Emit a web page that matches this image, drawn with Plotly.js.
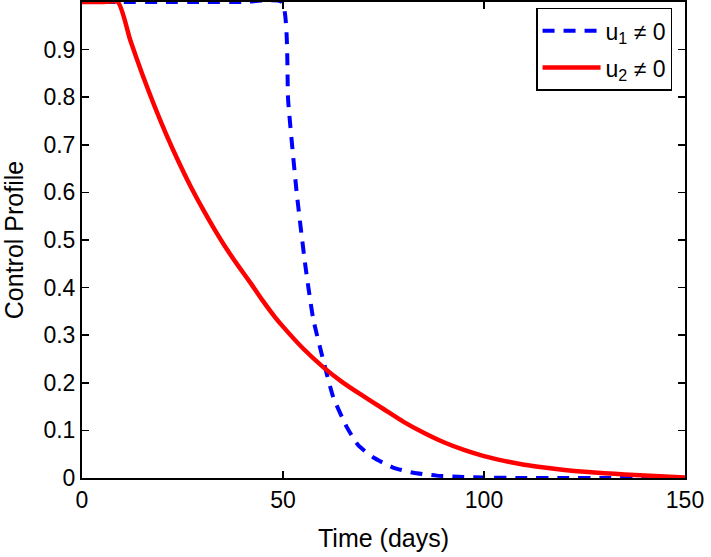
<!DOCTYPE html>
<html>
<head>
<meta charset="utf-8">
<script src="https://cdn.plot.ly/plotly-3.0.1.min.js"></script>
<style>html,body{margin:0;padding:0;background:#fff;}#chart{width:711px;height:557px;}</style>
</head>
<body>
<div id="chart"></div>
<script>
// Time (days) and control profile for u1 (blue dashed)
const u1Time = [0, 10, 20, 30, 40, 49.7, 51.3, 53.4, 55.5, 57.5, 60, 62.5, 65.8, 68.7, 72.5, 77.4, 82.4, 88.2, 95, 100, 110, 120, 130, 140, 150];
const u1Vals = [1, 1, 1, 1, 1, 1, 0.79, 0.6, 0.45, 0.335, 0.248, 0.17, 0.108, 0.069, 0.043, 0.022, 0.011, 0.005, 0.002, 0.001, 0, 0, 0, 0, 0];
// Time (days) and control profile for u2 (red solid)
const u2Time = [0, 5, 8.9, 12, 15, 18, 21, 24, 27, 30, 33, 36, 39, 42, 45, 48, 50, 55, 60, 65, 70, 75, 80, 85, 90, 95, 100, 105, 110, 115, 120, 125, 130, 135, 140, 145, 150];
const u2Vals = [1, 1, 1, 0.92, 0.848, 0.782, 0.721, 0.665, 0.613, 0.566, 0.522, 0.481, 0.444, 0.409, 0.372, 0.338, 0.318, 0.272, 0.233, 0.2, 0.172, 0.145, 0.118, 0.095, 0.075, 0.059, 0.046, 0.036, 0.028, 0.022, 0.017, 0.013, 0.01, 0.0075, 0.0052, 0.003, 0.001];
const seriesNames = ['u<sub>1</sub> \u2260 0', 'u<sub>2</sub> \u2260 0'];
const xTicks = [0, 50, 100, 150];
const yTicks = [0, 0.1, 0.2, 0.3, 0.4, 0.5, 0.6, 0.7, 0.8, 0.9];

const font = 'Liberation Sans, Arial, Helvetica, sans-serif';
const traces = [
  {x: u1Time, y: u1Vals, name: seriesNames[0], mode: 'lines', legendgroup: 'a',
   line: {color: '#0000FF', width: 4, dash: '12px,9px', shape: 'spline', smoothing: 0.5}},
  {x: u2Time, y: u2Vals, name: seriesNames[1], mode: 'lines', legendgroup: 'b',
   line: {color: '#FF0000', width: 4.5, shape: 'spline', smoothing: 0.6}}
];
const axisCommon = {
  showline: true, linecolor: '#000', linewidth: 2, mirror: 'ticks',
  ticks: 'inside', ticklen: 7, tickwidth: 1.5, tickcolor: '#000',
  showgrid: false, zeroline: false,
  tickfont: {family: font, size: 23, color: '#000'}
};
const layout = {
  width: 711, height: 557,
  margin: {l: 82, r: 26, t: 2, b: 79},
  paper_bgcolor: '#fff', plot_bgcolor: '#fff',
  showlegend: true,
  legend: {x: 0.753, y: 0.988, xanchor: 'left', yanchor: 'top',
    bgcolor: '#fff', bordercolor: '#000', borderwidth: 1.5,
    font: {family: font, size: 23, color: '#000'}, itemwidth: 58,
    traceorder: 'grouped', tracegroupgap: 4},
  xaxis: Object.assign({}, axisCommon, {range: [0, 150], tickvals: xTicks,
    title: {text: 'Time (days)', font: {family: font, size: 25, color: '#000'}, standoff: 18}}),
  yaxis: Object.assign({}, axisCommon, {range: [0, 1], tickvals: yTicks,
    title: {text: 'Control Profile', font: {family: font, size: 25, color: '#000'}, standoff: 14}})
};
Plotly.newPlot('chart', traces, layout, {displayModeBar: false, staticPlot: true});
</script>
</body>
</html>
